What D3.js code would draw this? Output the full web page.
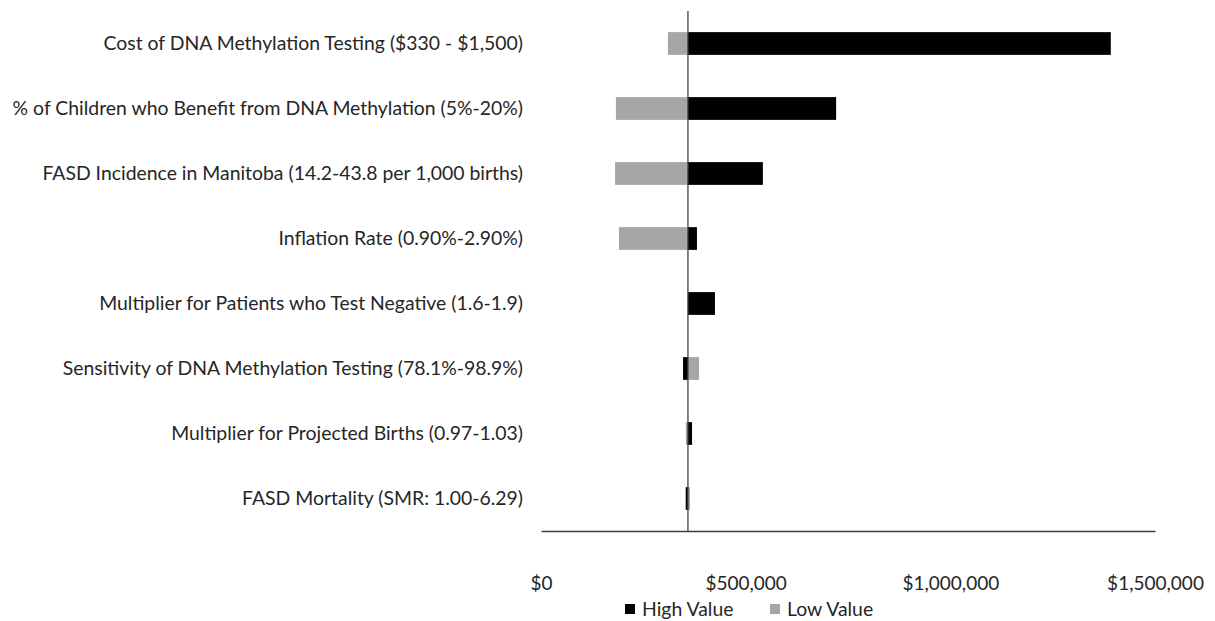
<!DOCTYPE html>
<html>
<head>
<meta charset="utf-8">
<script src="https://cdn.jsdelivr.net/npm/d3@7"></script>
<style>
  html, body { margin: 0; padding: 0; background: #fff; }
  svg text { font-family: Lato, "Open Sans", sans-serif; fill: #262626; }
</style>
</head>
<body>
<svg id="chart" width="1215" height="621"></svg>
<script>
// One-way sensitivity analysis: cost result when each parameter is set to its high / low value
const parameters = [
  "Cost of DNA Methylation Testing ($330 - $1,500)",
  "% of Children who Benefit from DNA Methylation (5%-20%)",
  "FASD Incidence in Manitoba (14.2-43.8 per 1,000 births)",
  "Inflation Rate (0.90%-2.90%)",
  "Multiplier for Patients who Test Negative (1.6-1.9)",
  "Sensitivity of DNA Methylation Testing (78.1%-98.9%)",
  "Multiplier for Projected Births (0.97-1.03)",
  "FASD Mortality (SMR: 1.00-6.29)"
];
const baseCase = 359000;
const highValues = [1392000, 721000, 542000, 381000, 425000, 347000, 369000, 353500];
const lowValues  = [310000, 183000, 181000, 190500, 358500, 386000, 354000, 364000];
const xTicks = [0, 500000, 1000000, 1500000];
const seriesNames = ["High Value", "Low Value"];
const seriesColors = ["#000000", "#a6a6a6"];

const svg = d3.select("#chart");

const x = d3.scaleLinear().domain([0, 1500000]).range([541, 1155]);
const y = d3.scaleBand().domain(parameters).range([11, 531])
  .paddingInner(0.65).paddingOuter(0.325);

const rows = parameters.map((p, i) => ({ p, high: highValues[i], low: lowValues[i] }));

// Low-value bars underneath, high-value bars on top
[["low", seriesColors[1]], ["high", seriesColors[0]]].forEach(([key, color]) => {
  svg.append("g").selectAll("rect").data(rows).join("rect")
    .attr("x", d => x(Math.min(d[key], baseCase)))
    .attr("width", d => Math.abs(x(d[key]) - x(baseCase)))
    .attr("y", d => y(d.p))
    .attr("height", y.bandwidth())
    .attr("fill", color);
});

// Category labels
svg.append("g").selectAll("text").data(parameters).join("text")
  .attr("x", 523)
  .attr("y", d => y(d) + y.bandwidth() / 2)
  .attr("dy", "0.35em")
  .attr("text-anchor", "end")
  .attr("font-size", 19.4)
  .text(d => d);

// Horizontal value axis
const xAxis = d3.axisBottom(x).tickValues(xTicks).tickSize(0).tickPadding(46)
  .tickFormat(d => "$" + d3.format(",")(d));
const gx = svg.append("g").attr("transform", "translate(0,531)").call(xAxis);
gx.select(".domain").attr("stroke", "#404040").attr("stroke-width", 1.3);
gx.selectAll("text").attr("font-size", 19).attr("fill", "#262626")
  .style("font-family", "Lato, 'Open Sans', sans-serif");

// Base-case reference line
svg.append("line")
  .attr("x1", x(baseCase)).attr("x2", x(baseCase))
  .attr("y1", 11).attr("y2", 531)
  .attr("stroke", "#404040").attr("stroke-width", 1.3);

// Legend
const legend = svg.append("g");
const legendX = [625, 770];
seriesNames.forEach((name, i) => {
  legend.append("rect").attr("x", legendX[i]).attr("y", 604)
    .attr("width", 10).attr("height", 10).attr("fill", seriesColors[i]);
  legend.append("text").attr("x", legendX[i] + 17).attr("y", 609)
    .attr("dy", "0.35em").attr("font-size", 19.4).text(name);
});
</script>
</body>
</html>
